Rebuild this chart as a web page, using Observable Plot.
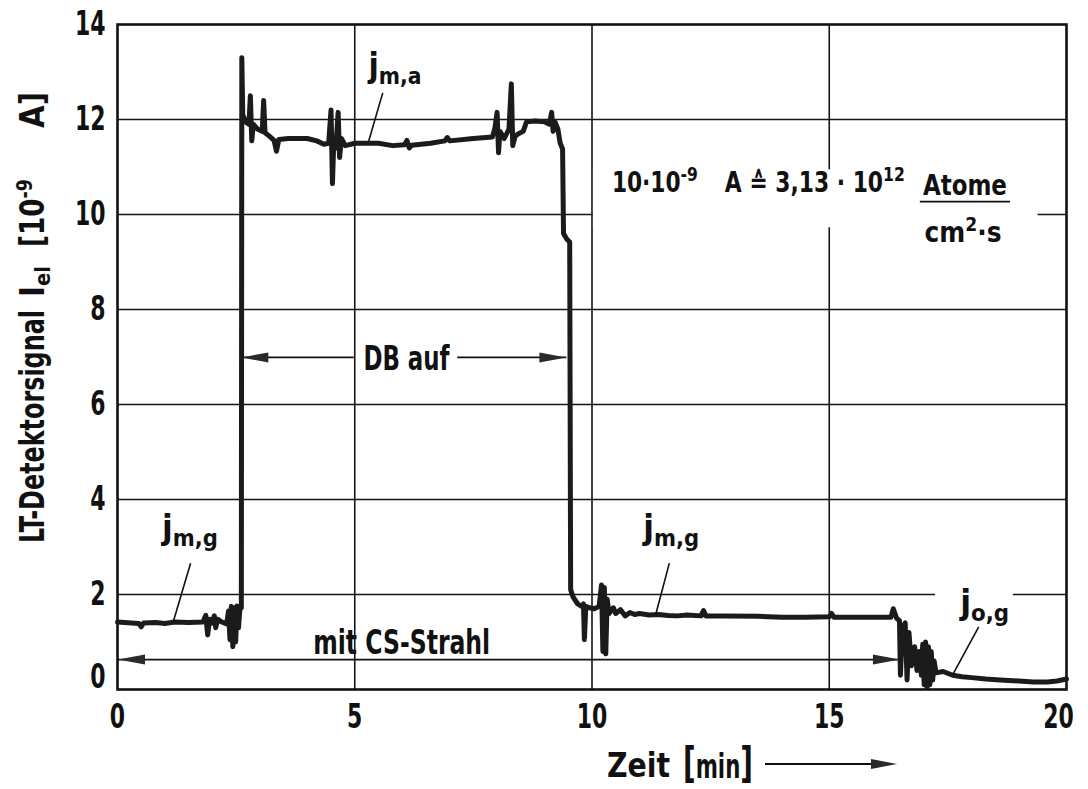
<!DOCTYPE html>
<html><head><meta charset="utf-8">
<script src="https://cdn.jsdelivr.net/npm/d3@7"></script>
<script src="https://cdn.jsdelivr.net/npm/@observablehq/plot@0.6"></script>
<style>
body{margin:0;background:#fff;}
svg text{white-space:pre;}
</style></head><body><div id="chart"></div>
<script>
const FONT = '"DejaVu Sans Condensed","DejaVu Sans","Liberation Sans",sans-serif';

// Zeit [min]
const time = [0,0.3,0.45,0.5,0.55,0.8,1.0,1.2,1.5,1.8,1.86,1.9,1.94,1.99,2.04,2.07,2.11,2.2,2.3,2.34,2.37,2.4,2.43,2.46,2.49,2.52,2.55,2.58,2.61,
  2.62,2.64,2.7,2.77,2.8,2.83,2.86,2.95,3.05,3.08,3.11,3.2,3.3,3.35,3.4,3.6,4.0,4.2,4.35,4.45,4.5,4.53,4.56,4.6,4.65,4.68,4.72,4.8,5.0,5.5,5.8,6.05,6.1,6.15,6.2,6.6,6.9,6.95,7.0,7.5,7.9,7.95,8.0,8.03,8.06,8.15,8.25,8.3,8.33,8.38,8.45,8.55,8.62,8.8,9.0,9.1,9.15,9.18,9.22,9.28,9.33,9.38,
  9.40,9.47,9.53,9.55,9.6,9.7,9.78,9.82,9.84,9.87,9.95,10.05,10.15,10.2,10.23,10.26,10.29,10.32,10.36,10.45,10.5,10.6,10.7,10.8,10.9,11.0,11.2,11.4,11.6,11.8,12.0,12.3,12.35,12.4,12.8,13.5,14.0,14.5,15.0,15.05,15.1,15.5,16.0,16.3,16.35,16.42,16.48,
  16.5,16.54,16.6,16.64,16.68,16.73,16.8,16.85,16.9,16.94,16.97,17.0,17.03,17.06,17.09,17.12,17.15,17.18,17.21,17.25,17.4,17.6,17.8,18.0,18.3,18.6,19.0,19.3,19.6,19.8,20];
// LT-Detektorsignal [10^-9 A]
const signal = [1.42,1.40,1.39,1.32,1.40,1.41,1.39,1.42,1.41,1.42,1.56,1.15,1.48,1.40,1.55,1.30,1.48,1.42,1.38,1.65,1.05,1.75,0.9,1.72,1.0,1.76,1.3,1.7,1.72,
  13.3,12.1,11.95,11.9,12.5,11.55,11.9,11.8,11.75,12.4,11.72,11.65,11.56,11.33,11.58,11.6,11.6,11.55,11.48,11.5,12.2,10.65,11.6,11.4,12.15,11.2,11.6,11.45,11.5,11.5,11.45,11.47,11.56,11.4,11.46,11.5,11.55,11.62,11.55,11.6,11.63,11.8,12.15,11.3,11.75,11.6,11.8,12.75,11.45,11.65,11.7,11.75,11.95,11.97,11.95,11.9,12.15,11.75,11.95,11.8,11.5,11.38,
  9.6,9.48,9.42,2.1,1.95,1.8,1.75,1.8,1.05,1.75,1.72,1.7,1.75,2.2,0.8,2.15,0.75,1.9,1.6,1.72,1.6,1.68,1.55,1.62,1.58,1.6,1.57,1.58,1.56,1.55,1.57,1.55,1.66,1.55,1.55,1.54,1.52,1.52,1.53,1.6,1.52,1.52,1.52,1.52,1.7,1.5,1.45,
  0.3,1.3,1.4,0.2,1.2,0.5,0.9,0.4,0.8,0.3,0.95,0.1,1.0,0.05,0.9,0.1,0.8,0.2,0.6,0.35,0.38,0.3,0.27,0.25,0.22,0.2,0.18,0.16,0.16,0.18,0.22];

const xTicks = [0,5,10,15,20];
const yTicks = [0,2,4,6,8,10,12,14];

// curve labels: x, y (baseline), subscript, label width
const curveLabels = [
  {x:5.3, y:12.89, sub:"m,a", w:54},
  {x:0.95, y:3.15, sub:"m,g", w:57},
  {x:11.09, y:3.15, sub:"m,g", w:57},
  {x:17.77, y:1.57, sub:"o,g", w:50}
];
// leader lines [x1,y1,x2,y2]
const leaders = [
  [5.59,12.56,5.29,11.53],
  [1.54,2.66,1.18,1.44],
  [11.63,2.66,11.34,1.57],
  [18.15,1.32,17.60,0.31]
];
// white areas behind labels
const masks = [
  {x1:10.03, x2:19.4, y1:9.72, y2:10.94},
  {x1:17.24, x2:18.88, y1:1.8, y2:2.2}
];

const data = time.map((t,i)=>({t, v:signal[i]}));

const plot = Plot.plot({
  width:1088, height:789,
  marginLeft:117, marginRight:22, marginTop:24, marginBottom:100,
  style:{fontFamily:FONT, fontWeight:"bold", fontSize:"33px", color:"#111", background:"#fff"},
  x:{domain:[0,20]},
  y:{domain:[0,14]},
  marks:[
    Plot.ruleX(xTicks.slice(1,-1), {stroke:"#151515", strokeWidth:1.6}),
    Plot.ruleY(yTicks.slice(1,-1), {stroke:"#151515", strokeWidth:1.6}),
    Plot.rect(masks, {x1:"x1", x2:"x2", y1:"y1", y2:"y2", fill:"white"}),
    Plot.frame({stroke:"#111", strokeWidth:2.6}),
    Plot.line(data, {x:"t", y:"v", stroke:"#1b1b1b", strokeWidth:5, strokeLinejoin:"round", strokeLinecap:"round"}),
    Plot.link(leaders, {x1:d=>d[0], y1:d=>d[1], x2:d=>d[2], y2:d=>d[3], stroke:"#111", strokeWidth:1.6}),
    Plot.axisX(xTicks.filter(t=>t<20), {tickSize:0, tickPadding:15, label:null}),
    Plot.text([20], {x:d=>d, y:()=>0, text:d=>String(d), dy:15, dx:-8, lineAnchor:"top"}),
    Plot.axisY(yTicks.filter(t=>t>0), {tickSize:0, tickPadding:12, label:null}),
    Plot.text([0], {x:()=>0, y:d=>d, text:d=>String(d), textAnchor:"end", dx:-12, dy:-12})
  ]
});
document.getElementById("chart").appendChild(plot);

// condense tick labels (reference uses a condensed face)
d3.select(plot).selectAll("text").each(function() {
  const tr = this.getAttribute("transform") || "";
  this.setAttribute("transform", tr + " scale(0.74,1)");
});

const sx = plot.scale("x"), sy = plot.scale("y");
const X = v => sx.apply(v), Y = v => sy.apply(v);
const svg = d3.select(plot);
const g = svg.append("g").attr("font-family", FONT).attr("font-weight","bold").attr("fill","#111");

// text with sub/superscripts, squeezed horizontally to width w
function rich(x, y, parts, o = {}) {
  const size = o.size || 33, small = o.small || Math.round(size*0.66);
  const outer = g.append("g").attr("transform", `translate(${x},${y})` + (o.rotate ? ` rotate(${o.rotate})` : ""));
  const inner = outer.append("g");
  const t = inner.append("text").attr("font-size", size).attr("text-anchor", o.anchor || "start");
  let shift = 0;
  for (const [s, kind, fs] of parts) {
    const target = kind === "sup" ? -(o.supShift ?? size*0.42) : kind === "sub" ? (o.subShift ?? size*0.28) : 0;
    t.append("tspan").attr("dy", target - shift).attr("font-size", fs || (kind ? small : size)).text(s);
    shift = target;
  }
  if (o.w) {
    const bw = t.node().getBBox().width;
    inner.attr("transform", `scale(${o.w / bw},1)`);
  }
  return t;
}
function head(tx, ty, dir, L = 27, h = 5) {
  g.append("path").attr("d", `M${tx},${ty}L${tx - dir*L},${ty - h}L${tx - dir*L},${ty + h}Z`).attr("fill", "#2a2a2a");
}
function hline(x1, x2, y, w = 1.8) {
  g.append("line").attr("x1", x1).attr("x2", x2).attr("y1", y).attr("y2", y).attr("stroke", "#111").attr("stroke-width", w);
}

// curve labels j_xx
for (const c of curveLabels) {
  rich(X(c.x), Y(c.y), [["j"], [c.sub, "sub"]], {size:34, small:23, subShift:7, w:c.w});
}

// DB auf
const dbY = Y(6.98);
hline(X(2.62), X(4.99), dbY); hline(X(7.17), X(9.47), dbY);
head(X(2.62), dbY, -1); head(X(9.47), dbY, 1);
rich(X(6.1), Y(6.72), [["DB auf"]], {anchor:"middle", w:87});

// mit CS-Strahl
const csY = Y(0.62);
hline(X(0), X(16.5), csY);
head(X(0)+1, csY, -1); head(X(16.5), csY, 1);
rich(X(6.0), Y(0.73), [["mit CS-Strahl"]], {anchor:"middle", w:177});

// Formula
rich(X(10.43), Y(10.47), [["10·10"], ["-9", "sup"]], {size:28, small:20, supShift:11, w:86});
rich(X(12.81), Y(10.47), [["A ≙ 3,13 · 10"], ["12", "sup"]], {size:28, small:20, supShift:11, w:180});
rich(X(17.87), Y(10.39), [["Atome"]], {size:29, anchor:"middle", w:84});
hline(X(16.92), X(18.82), Y(10.26), 1.6);
rich(X(17.83), Y(9.42), [["cm"], ["2", "sup"], ["·s"]], {size:29, small:20, supShift:11, anchor:"middle", w:77});

// Axis titles (rotated pieces)
rich(44, 543, [["LT-Detektorsignal"]], {size:33, rotate:-90, w:233});
rich(44, 297, [["I"], ["el", "sub"]], {size:33, small:22, subShift:6, rotate:-90, w:31});
rich(44, 247, [["[10"], ["-9", "sup"]], {size:33, small:22, supShift:12, rotate:-90, w:68});
rich(44, 128, [["A]"]], {size:33, rotate:-90, w:36});

rich(607, 777, [["Zeit"]], {size:33, w:63});
rich(683, 778, [["["], ["min", null, 33], ["]"]], {size:43, w:70});
hline(765, 872, 764, 1.8);
head(897, 764, 1, 26, 5);
</script></body></html>
